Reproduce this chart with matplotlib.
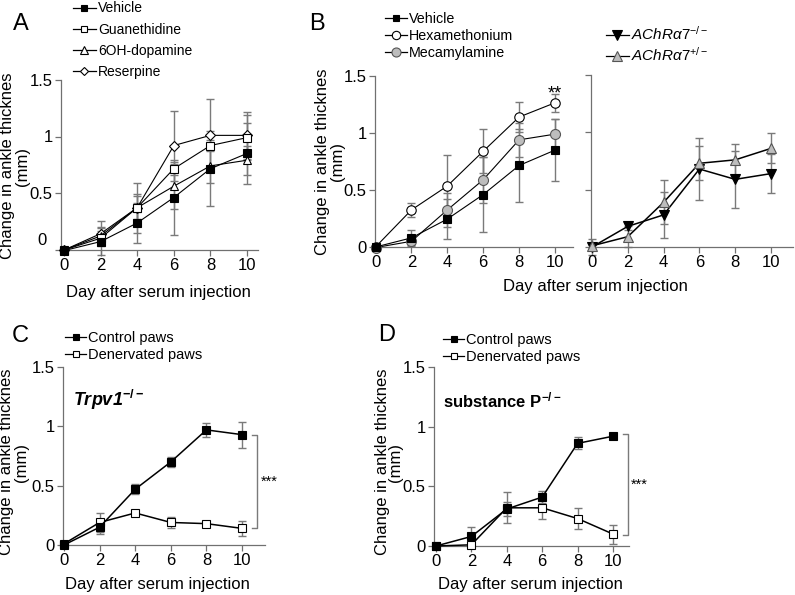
import matplotlib
matplotlib.use('Agg')
import matplotlib.pyplot as plt
from matplotlib.transforms import ScaledTranslation
from matplotlib.lines import Line2D

plt.rcParams['font.family'] = ['Liberation Sans', 'DejaVu Sans']
plt.rcParams['mathtext.fontset'] = 'custom'
plt.rcParams['mathtext.rm'] = 'Liberation Sans'
plt.rcParams['mathtext.it'] = 'Liberation Sans:italic'
plt.rcParams['mathtext.bf'] = 'Liberation Sans:bold'

# ---------------- data ----------------
days = [0, 2, 4, 6, 8, 10]
yticks = [0, 0.5, 1, 1.5]
ytick_labels = ['0', '0.5', '1', '1.5']

# Panel A
a_vehicle = [-0.01, 0.07, 0.235, 0.46, 0.715, 0.85]
a_vehicle_err = [0.0, 0.12, 0.175, 0.33, 0.33, 0.27]
a_guan = [-0.005, 0.10, 0.37, 0.715, 0.92, 0.99]
a_guan_err = [0.0, 0.06, 0.10, 0.06, 0.05, 0.20]
a_6ohda = [-0.005, 0.12, 0.37, 0.56, 0.74, 0.79]
a_6ohda_err = [0.0, 0.08, 0.12, 0.20, 0.15, 0.13]
a_reserpine = [-0.005, 0.14, 0.37, 0.92, 1.01, 1.01]
a_reserpine_err = [0.0, 0.11, 0.22, 0.31, 0.32, 0.21]

# Panel B (left)
b_vehicle = [0.0, 0.08, 0.245, 0.46, 0.715, 0.85]
b_vehicle_err = [0.0, 0.07, 0.175, 0.33, 0.32, 0.27]
b_hex = [0.0, 0.325, 0.535, 0.84, 1.14, 1.265]
b_hex_err = [0.0, 0.065, 0.27, 0.195, 0.13, 0.08]
b_meca = [-0.005, 0.05, 0.325, 0.59, 0.94, 0.99]
b_meca_err = [0.0, 0.03, 0.15, 0.20, 0.15, 0.13]

# Panel B (right)
achr_ko = [0.0, 0.18, 0.28, 0.68, 0.59, 0.64]
achr_ko_err = [0.07, 0.03, 0.20, 0.27, 0.25, 0.17]
achr_het = [0.01, 0.09, 0.39, 0.73, 0.76, 0.86]
achr_het_err = [0.02, 0.09, 0.19, 0.15, 0.14, 0.13]

# Panel C
c_control = [0.0, 0.15, 0.47, 0.70, 0.97, 0.93]
c_control_err = [0.02, 0.06, 0.04, 0.04, 0.06, 0.11]
c_denerv = [0.01, 0.19, 0.27, 0.19, 0.18, 0.14]
c_denerv_err = [0.02, 0.08, 0.02, 0.05, 0.02, 0.06]

# Panel D
d_control = [0.0, 0.08, 0.31, 0.41, 0.86, 0.92]
d_control_err = [0.0, 0.08, 0.06, 0.05, 0.05, 0.01]
d_denerv = [0.0, 0.01, 0.32, 0.32, 0.23, 0.10]
d_denerv_err = [0.0, 0.01, 0.13, 0.09, 0.09, 0.08]

# ---------------- layout ----------------
W, H = 795, 595
fig = plt.figure(figsize=(W / 100, H / 100), dpi=100)
SPINE = '#707070'
ECOL = '#7a7a7a'
GRAYF = '#bdbdbd'


def panel(box, x0px, x10px, y0px, y15px, ylabels=True):
    l, r, t, b = box
    ax = fig.add_axes([l / W, 1 - b / H, (r - l) / W, (b - t) / H])
    sx = (x10px - x0px) / 10.0
    sy = (y0px - y15px) / 1.5
    ax.set_xlim((l - x0px) / sx, (r - x0px) / sx)
    ax.set_ylim((y0px - b) / sy, (y0px - t) / sy)
    for s in ('top', 'right'):
        ax.spines[s].set_visible(False)
    for s in ('left', 'bottom'):
        ax.spines[s].set_color(SPINE)
        ax.spines[s].set_linewidth(0.9)
    ax.set_xticks(days)
    ax.set_xticklabels([str(d) for d in days])
    ax.set_yticks(yticks)
    ax.set_yticklabels(ytick_labels if ylabels else [])
    ax.tick_params(direction='out', length=4, width=0.9, color=SPINE,
                   labelsize=12, pad=2)
    ax.patch.set_visible(False)
    return ax


def series(ax, y, err, marker, mfc, mec='black', ms=5.5, lw=0.8, zo=3):
    ax.errorbar(days, y, yerr=err, fmt='none', ecolor=ECOL, elinewidth=1.0,
                capsize=2.8, capthick=1.0, zorder=1, clip_on=False)
    ax.plot(days, y, color='black', lw=lw, marker=marker, mfc=mfc, mec=mec,
            ms=ms, mew=0.8, zorder=zo, clip_on=False)


def legend(ax, entries, xpx, ypx, fs, spacing, hl):
    handles = [Line2D([], [], color='black', lw=0.9, marker=m, mfc=fc, mec=ec,
                      ms=ms, mew=0.8) for (_, m, fc, ec, ms) in entries]
    labels = [e[0] for e in entries]
    leg = ax.legend(handles, labels, loc='upper left',
                    bbox_to_anchor=(xpx / W, 1 - ypx / H),
                    bbox_transform=fig.transFigure, frameon=False,
                    fontsize=fs, handlelength=hl, handletextpad=0.15,
                    labelspacing=spacing, borderpad=0, borderaxespad=0)
    return leg


YLAB = 'Change in ankle thicknes\n(mm)'
XLAB = 'Day after serum injection'

# ---- Panel A ----
axA = panel((61, 258, 80, 250), 64, 247, 249.5, 80)
series(axA, a_vehicle, a_vehicle_err, 's', 'black', ms=5.2, zo=6)
series(axA, a_guan, a_guan_err, 's', 'white', ms=5.2, zo=5)
series(axA, a_6ohda, a_6ohda_err, '^', 'white', ms=5.8, zo=4)
series(axA, a_reserpine, a_reserpine_err, 'D', 'white', ms=4.6, zo=3)
lab0 = axA.get_yticklabels()[0]
lab0.set_transform(lab0.get_transform() +
                   ScaledTranslation(-0.06, 0.11, fig.dpi_scale_trans))
legend(axA, [('Vehicle', 's', 'black', 'black', 5),
             ('Guanethidine', 's', 'white', 'black', 5),
             ('6OH-dopamine', '^', 'white', 'black', 5.5),
             ('Reserpine', 'D', 'white', 'black', 4.5)],
       73, 1.5, 10, 0.52, 1.65)
fig.text(15 / W, 1 - 166 / H, YLAB, rotation=90, ha='center', va='center',
         fontsize=12, linespacing=0.95, multialignment='center')
fig.text(158 / W, 1 - 293 / H, XLAB, ha='center', va='center', fontsize=12)
fig.text(21 / W, 1 - 24 / H, 'A', ha='center', va='center', fontsize=17)

# ---- Panel B left ----
axB = panel((375, 573, 76, 247), 375.5, 555, 247, 76)
series(axB, b_vehicle, b_vehicle_err, 's', 'black', ms=5.5, zo=5)
series(axB, b_hex, b_hex_err, 'o', 'white', ms=6.8, zo=3)
series(axB, b_meca, b_meca_err, 'o', GRAYF, mec='#555555', ms=7.2, zo=4)
axB.text(days[-1], b_hex[-1] + b_hex_err[-1] - 0.04, '**', ha='center',
         va='baseline', fontsize=13)
legend(axB, [('Vehicle', 's', 'black', 'black', 5),
             ('Hexamethonium', 'o', 'white', 'black', 6),
             ('Mecamylamine', 'o', GRAYF, '#555555', 6.5)],
       385, 12, 10.3, 0.22, 1.55)
fig.text(330 / W, 1 - 162 / H, YLAB, rotation=90, ha='center', va='center',
         fontsize=12, linespacing=0.95, multialignment='center')
fig.text(595 / W, 1 - 286 / H, XLAB, ha='center', va='center', fontsize=12)
fig.text(317 / W, 1 - 24 / H, 'B', ha='center', va='center', fontsize=17)

# ---- Panel B right ----
axB2 = panel((591, 793, 75, 247), 592, 771, 247, 75, ylabels=False)
series(axB2, achr_ko, achr_ko_err, 'v', 'black', ms=7, lw=1.1, zo=3)
series(axB2, achr_het, achr_het_err, '^', GRAYF, mec='#555555', ms=7.5,
       lw=1.1, zo=4)
legend(axB2, [(r'$AChR\alpha7^{-/-}$', 'v', 'black', 'black', 6.5),
              (r'$AChR\alpha7^{+/-}$', '^', GRAYF, '#555555', 7)],
       606, 25, 11, 0.2, 1.5)

# ---- Panel C ----
axC = panel((63, 265, 367, 545), 64, 242, 545, 367)
series(axC, c_denerv, c_denerv_err, 's', 'white', ms=6, lw=1.1, zo=3)
series(axC, c_control, c_control_err, 's', 'black', ms=6, lw=1.1, zo=4)
bx = 10.84
axC.plot([bx - 0.28, bx, bx, bx - 0.28],
         [c_control[-1], c_control[-1], c_denerv[-1], c_denerv[-1]],
         color=ECOL, lw=1.0, clip_on=False)
axC.text(bx + 0.22, (c_control[-1] + c_denerv[-1]) / 2, '***', ha='left',
         va='center', fontsize=10.5)
axC.text(0.5, 1.22, r'Trpv1$^{\mathbf{-/-}}$', fontweight='bold',
         style='italic', fontsize=13, va='center', ha='left')
legend(axC, [('Control paws', 's', 'black', 'black', 5),
             ('Denervated paws', 's', 'white', 'black', 5)],
       65, 331, 10.5, 0.18, 1.45)
fig.text(14 / W, 1 - 462 / H, YLAB, rotation=90, ha='center', va='center',
         fontsize=12, linespacing=0.95, multialignment='center')
fig.text(157 / W, 1 - 584 / H, XLAB, ha='center', va='center', fontsize=12)
fig.text(20 / W, 1 - 336 / H, 'C', ha='center', va='center', fontsize=17)

# ---- Panel D ----
axD = panel((434, 629, 367, 546), 436, 613, 546, 367)
series(axD, d_denerv, d_denerv_err, 's', 'white', ms=6, lw=1.1, zo=3)
series(axD, d_control, d_control_err, 's', 'black', ms=6, lw=1.1, zo=4)
bx = 10.85
axD.plot([bx - 0.28, bx, bx, bx - 0.28],
         [d_control[-1] + 0.015, d_control[-1] + 0.015, d_denerv[-1] - 0.01,
          d_denerv[-1] - 0.01],
         color=ECOL, lw=1.0, clip_on=False)
axD.text(bx + 0.15, (d_control[-1] + d_denerv[-1]) / 2, '***', ha='left',
         va='center', fontsize=10.5)
axD.text(0.4, 1.22, r'substance P$^{\mathbf{-/-}}$', fontweight='bold',
         fontsize=12, va='center', ha='left')
legend(axD, [('Control paws', 's', 'black', 'black', 5),
             ('Denervated paws', 's', 'white', 'black', 5)],
       443, 333, 10.5, 0.2, 1.45)
fig.text(389 / W, 1 - 462 / H, YLAB, rotation=90, ha='center', va='center',
         fontsize=12, linespacing=0.9, multialignment='center')
fig.text(530 / W, 1 - 584 / H, XLAB, ha='center', va='center', fontsize=12)
fig.text(387 / W, 1 - 335 / H, 'D', ha='center', va='center', fontsize=17)

fig.savefig('out.png', dpi=100)
